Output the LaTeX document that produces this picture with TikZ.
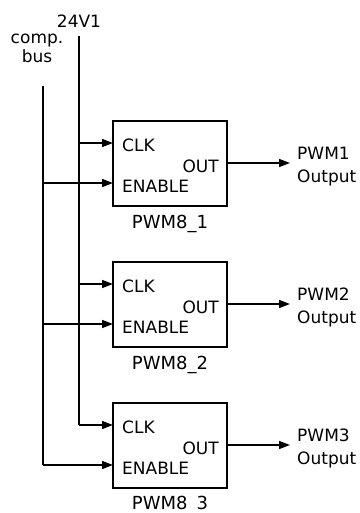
\documentclass[tikz,border=0pt]{standalone}
\usepackage{fontspec}
\setmainfont{DejaVu Sans}
\usetikzlibrary{arrows.meta}
\begin{document}
\begin{tikzpicture}[x=1pt,y=-1pt,
  font=\fontsize{17}{19.5}\selectfont,
  wire/.style={line width=1.5pt},
  arr/.style={wire,-{Triangle[length=11pt,width=8pt]}},
  blockbox/.style={draw,line width=1.5pt,minimum width=114pt,minimum height=85pt,inner sep=0pt},
  lbl/.style={inner sep=0pt,anchor=base},
  blabel/.style={lbl,font=\fontsize{18}{21}\selectfont}]
\useasboundingbox (0,0) rectangle (359,513);
\node[lbl] (v24) at (79,28) {24V1};
\node[lbl,align=center] (cb) at (37,63) {comp.\\bus};
\coordinate (vtop) at (79,36);
\coordinate (ctop) at (43,86);
\foreach \i in {1,2,3}{
  \pgfmathsetmacro\t{121+141*(\i-1)}
  \node[blockbox] (b\i) at (170,{\t+42.5}) {};
  \coordinate (clk\i) at (113,{\t+22});
  \coordinate (en\i) at (113,{\t+62});
  \coordinate (out\i) at (227,{\t+42});
  \coordinate (pe\i) at (290,{\t+42});
  \node[lbl,anchor=base west] (tc\i) at (122,{\t+30}) {CLK};
  \node[lbl,anchor=base west] (te\i) at (122,{\t+71}) {ENABLE};
  \node[lbl,anchor=base east] (to\i) at (219,{\t+51}) {OUT};
  \node[lbl,anchor=base west] (tp\i) at (297,{\t+38}) {PWM\i};
  \node[lbl,anchor=base west] (tq\i) at (297,{\t+61}) {Output};
  \draw[arr] (vtop |- clk\i) -- (clk\i);
  \draw[arr] (ctop |- en\i) -- (en\i);
  \draw[arr] (out\i) -- (pe\i);
}
\node[blabel] (n1) at (170,228) {PWM8\_1};
\node[blabel] (n2) at (170,369) {PWM8\_2};
\begin{scope}
\clip (0,0) rectangle (359,510);
\node[blabel] (n3) at (170,509) {PWM8\_3};
\end{scope}
\draw[wire] (vtop) -- (vtop |- clk3);
\draw[wire] (ctop) -- (ctop |- en3);
\end{tikzpicture}
\end{document}
